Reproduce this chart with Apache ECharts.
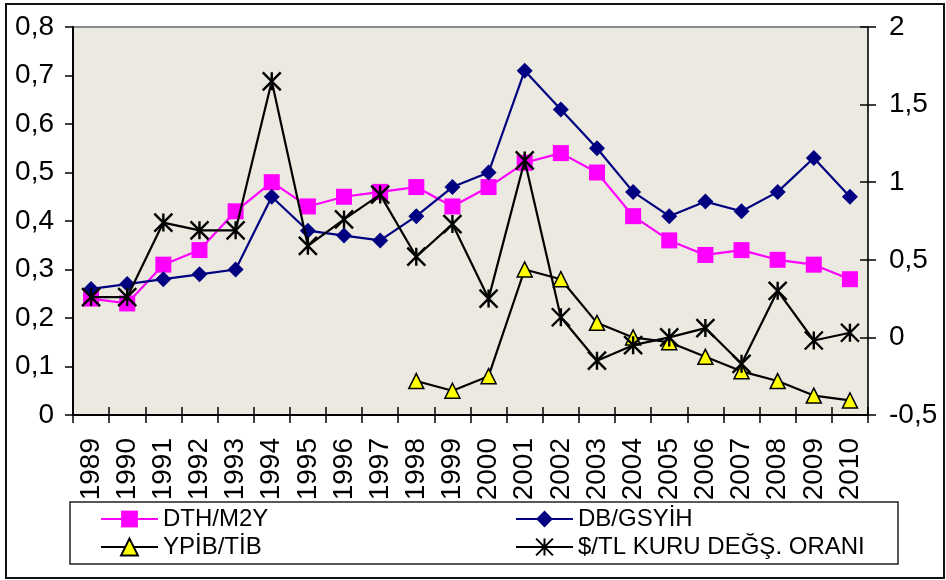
<!DOCTYPE html>
<html lang="tr">
<head>
    <meta charset="UTF-8">
    <title>DTH/M2Y - DB/GSYİH - YPİB/TİB - $/TL</title>
    <script src="https://cdn.jsdelivr.net/npm/echarts@6.0.0/dist/echarts.min.js"></script>
    <style>
        body, html {
            margin: 0;
            padding: 0;
            width: 100%;
            height: 100%;
            background-color: #fff;
        }
        #chart {
            width: 946px;
            height: 580px;
        }
    </style>
</head>
<body>
    <div id="chart"></div>

    <script>
        // yıllar
        var years = ['1989', '1990', '1991', '1992', '1993', '1994', '1995', '1996', '1997', '1998', '1999',
                     '2000', '2001', '2002', '2003', '2004', '2005', '2006', '2007', '2008', '2009', '2010'];

        // sol eksen
        var dthM2y = [0.24, 0.23, 0.31, 0.34, 0.42, 0.48, 0.43, 0.45, 0.46, 0.47, 0.43,
                      0.47, 0.52, 0.54, 0.50, 0.41, 0.36, 0.33, 0.34, 0.32, 0.31, 0.28];
        var dbGsyih = [0.26, 0.27, 0.28, 0.29, 0.30, 0.45, 0.38, 0.37, 0.36, 0.41, 0.47,
                       0.50, 0.71, 0.63, 0.55, 0.46, 0.41, 0.44, 0.42, 0.46, 0.53, 0.45];
        var ypibTib = [null, null, null, null, null, null, null, null, null, 0.07, 0.05,
                       0.08, 0.30, 0.28, 0.19, 0.16, 0.15, 0.12, 0.09, 0.07, 0.04, 0.03];

        // sağ eksen
        var kurOrani = [0.26, 0.26, 0.74, 0.69, 0.69, 1.65, 0.59, 0.76, 0.92, 0.52, 0.73,
                        0.25, 1.14, 0.13, -0.15, -0.05, 0.00, 0.06, -0.17, 0.30, -0.02, 0.03];

        var seriesNames = ['DTH/M2Y', 'DB/GSYİH', 'YPİB/TİB', '$/TL KURU DEĞŞ. ORANI'];

        var font = "'Liberation Sans', Arial, sans-serif";
        var asterisk = 'path://M0,0L10,10M10,0L0,10M5,0L5,10';

        function comma(v) {
            return String(v).replace('.', ',');
        }

        var chart = echarts.init(document.getElementById('chart'));

        function legendAt(name, left, top) {
            return {
                data: [name],
                left: left,
                top: top,
                itemWidth: 57,
                itemHeight: 21,
                padding: 0,
                selectedMode: false,
                textStyle: { fontFamily: font, fontSize: 24, color: '#000' }
            };
        }

        var tickStyle = { color: '#000', width: 1.5 };

        var option = {
            animation: false,
            textStyle: { fontFamily: font },
            graphic: [
                {
                    type: 'rect',
                    shape: { x: 6, y: 4, width: 938, height: 574 },
                    style: { fill: 'none', stroke: '#111', lineWidth: 2 }
                },
                {
                    type: 'rect',
                    shape: { x: 70, y: 502, width: 828, height: 62 },
                    style: { fill: 'none', stroke: '#222', lineWidth: 1.5 }
                }
            ],
            legend: [
                legendAt(seriesNames[0], 100, 507),
                legendAt(seriesNames[1], 515, 507),
                legendAt(seriesNames[2], 100, 535),
                legendAt(seriesNames[3], 515, 535)
            ],
            grid: {
                left: 73,
                top: 27,
                right: 78,
                bottom: 165,
                show: true,
                backgroundColor: '#ece9e0',
                borderColor: '#8a8a8a',
                borderWidth: 2
            },
            xAxis: [
                {
                    type: 'category',
                    data: years,
                    boundaryGap: true,
                    axisLine: { onZero: false, lineStyle: { color: '#000', width: 2 } },
                    axisTick: { show: true, interval: 0, length: 8, lineStyle: tickStyle },
                    axisLabel: {
                        interval: 0,
                        rotate: 90,
                        margin: 23,
                        fontSize: 28,
                        color: '#000',
                        fontFamily: font
                    },
                    splitLine: { show: false }
                },
                {
                    // iç taraftaki tikler
                    type: 'category',
                    data: years,
                    position: 'bottom',
                    boundaryGap: true,
                    axisLine: { show: false, onZero: false },
                    axisTick: { show: true, inside: true, interval: 0, length: 8, lineStyle: tickStyle },
                    axisLabel: { show: false },
                    splitLine: { show: false }
                }
            ],
            yAxis: [
                {
                    type: 'value',
                    min: 0,
                    max: 0.8,
                    interval: 0.1,
                    position: 'left',
                    axisLine: { show: true, onZero: false, lineStyle: { color: '#000', width: 2 } },
                    axisTick: { show: true, length: 8, lineStyle: tickStyle },
                    axisLabel: {
                        formatter: comma,
                        margin: 19,
                        fontSize: 28,
                        color: '#000',
                        fontFamily: font
                    },
                    splitLine: { show: false }
                },
                {
                    type: 'value',
                    min: -0.5,
                    max: 2,
                    interval: 0.5,
                    position: 'right',
                    axisLine: { show: true, onZero: false, lineStyle: { color: '#333', width: 2 } },
                    axisTick: { show: true, length: 8, lineStyle: tickStyle },
                    axisLabel: {
                        formatter: comma,
                        margin: 21,
                        fontSize: 28,
                        color: '#000',
                        fontFamily: font
                    },
                    splitLine: { show: false }
                },
                {
                    type: 'value',
                    min: -0.5,
                    max: 2,
                    interval: 0.5,
                    position: 'right',
                    axisLine: { show: false, onZero: false },
                    axisTick: { show: true, inside: true, length: 8, lineStyle: tickStyle },
                    axisLabel: { show: false },
                    splitLine: { show: false }
                }
            ],
            series: [
                {
                    name: seriesNames[0],
                    type: 'line',
                    data: dthM2y,
                    yAxisIndex: 0,
                    symbol: 'rect',
                    symbolSize: 16,
                    lineStyle: { color: '#ff00ff', width: 2.2 },
                    itemStyle: { color: '#ff00ff' },
                    emphasis: { disabled: true },
                    z: 3
                },
                {
                    name: seriesNames[1],
                    type: 'line',
                    data: dbGsyih,
                    yAxisIndex: 0,
                    symbol: 'diamond',
                    symbolSize: 16,
                    lineStyle: { color: '#000080', width: 2.2 },
                    itemStyle: { color: '#000080' },
                    emphasis: { disabled: true },
                    z: 4
                },
                {
                    name: seriesNames[2],
                    type: 'line',
                    data: ypibTib,
                    yAxisIndex: 0,
                    symbol: 'triangle',
                    symbolSize: 15,
                    lineStyle: { color: '#000', width: 2.2 },
                    itemStyle: { color: '#ffff00', borderColor: '#000', borderWidth: 1.5 },
                    emphasis: { disabled: true },
                    z: 5
                },
                {
                    name: seriesNames[3],
                    type: 'line',
                    data: kurOrani,
                    yAxisIndex: 1,
                    symbol: asterisk,
                    symbolSize: 18,
                    lineStyle: { color: '#000', width: 2.2 },
                    itemStyle: { color: 'rgba(0,0,0,0)', borderColor: '#000', borderWidth: 2.4 },
                    emphasis: { disabled: true },
                    z: 6
                }
            ]
        };

        chart.setOption(option);
    </script>
</body>
</html>
